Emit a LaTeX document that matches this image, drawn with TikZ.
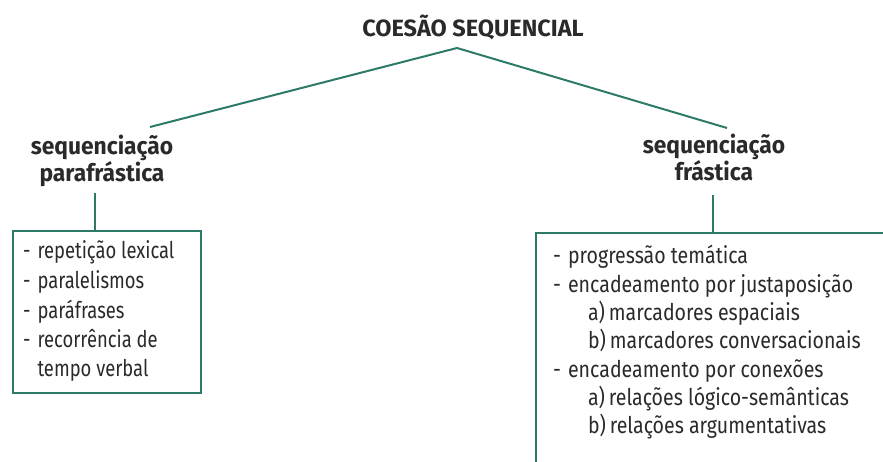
\documentclass[tikz,border=0pt]{standalone}
\usepackage{fontspec}
\setmainfont{Fira Sans}
\newfontfamily\bodyfont{Fira Sans}[FakeStretch=0.85]
\newfontfamily\bodyfontnarrow{Fira Sans}[FakeStretch=0.8]
\newfontfamily\headfont{Fira Sans}[FakeStretch=0.95]
\definecolor{linegreen}{HTML}{2E7A68}
\definecolor{inkgray}{HTML}{2A2A2A}
\tikzset{
  conn/.style={draw=linegreen, line width=2pt},
  boxframe/.style={draw=linegreen, line width=2pt, anchor=north west, inner sep=0pt},
  headtxt/.style={font={\headfont\bfseries\fontsize{24}{27}\selectfont}, text=inkgray, align=center, inner sep=0pt},
  bodytxt/.style={text=inkgray, align=left, inner sep=0pt, anchor=base west},
}
\begin{document}
\begin{tikzpicture}[x=1pt,y=-1pt]
\useasboundingbox (0,0) rectangle (883,462);
\clip (0,0) rectangle (883,462);
% title
\node[headtxt, font={\fontspec{Fira Sans}\bfseries\fontsize{23.5}{27}\selectfont}, anchor=base] (title) at (473,37) {COESÃO SEQUENCIAL};
\coordinate (apex) at (457,48);
\coordinate (lend) at (150,127);
\coordinate (rend) at (727,128);
\draw[conn] (lend) -- (apex) -- (rend);
% headings
\node[headtxt, anchor=base] (lhead) at (102,182) {sequenciação\\parafrástica};
\node[headtxt, anchor=base] (rhead) at (714,181) {sequenciação\\frástica};
% boxes
\node[boxframe, minimum width=188, minimum height=162] (lbox) at (12,230) {};
\node[boxframe, minimum width=400, minimum height=300] (rbox) at (535,232) {};
\coordinate (ltop) at (95,193);
\coordinate (rtop) at (713,195);
\draw[conn] (ltop) -- (ltop |- lbox.north);
\draw[conn] (rtop) -- (rtop |- rbox.north);
% box texts
\node[bodytxt, font={\bodyfontnarrow\fontsize{23}{29.5}\selectfont}] (ltext) at (23,259)
{\begin{tabular}[t]{@{}l@{\hspace{7pt}}l@{}}
-&repetição lexical\\
-&paralelismos\\
-&paráfrases\\
-&recorrência de\\
&tempo verbal
\end{tabular}};
\node[bodytxt, font={\bodyfont\fontsize{23}{28.3}\selectfont}] (rtext) at (553,264)
{\begin{tabular}[t]{@{}l@{\hspace{7pt}}l@{}}
-&progressão temática\\
-&encadeamento por justaposição\\
&\hspace*{20pt}a)\,marcadores espaciais\\
&\hspace*{20pt}b)\,marcadores conversacionais\\
-&encadeamento por conexões\\
&\hspace*{20pt}a)\,relações lógico-semânticas\\
&\hspace*{20pt}b)\,relações argumentativas
\end{tabular}};
\end{tikzpicture}
\end{document}
